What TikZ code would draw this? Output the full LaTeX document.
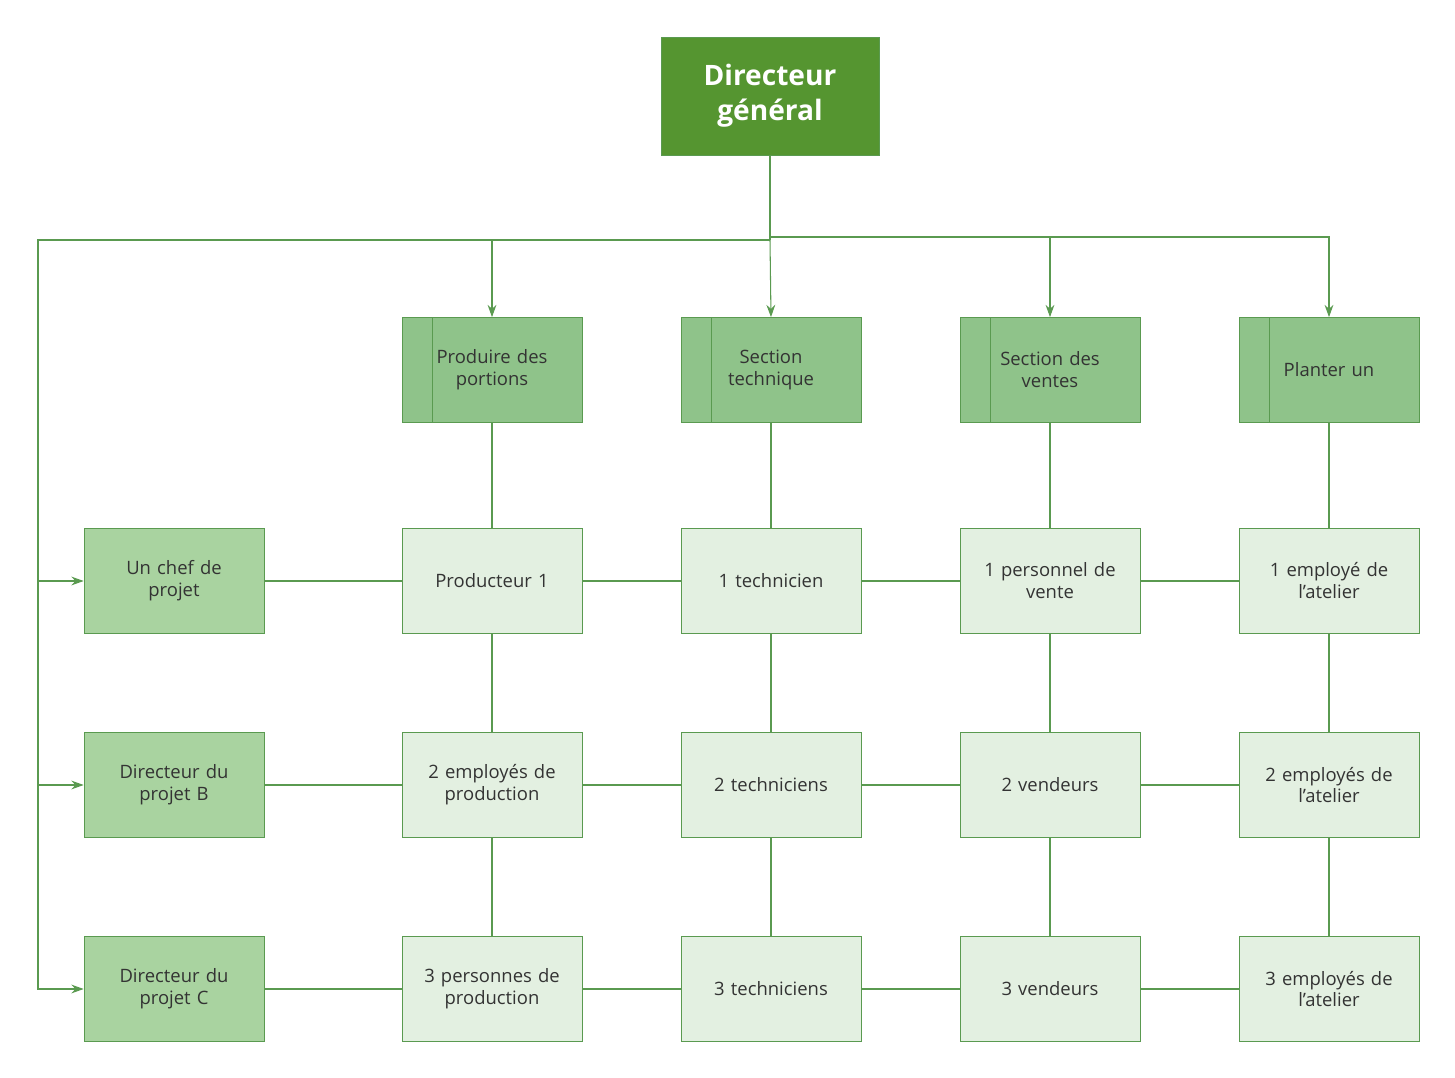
\documentclass[tikz,border=0pt]{standalone}
\usepackage{fontspec}
\setmainfont{Open Sans}
\usetikzlibrary{arrows.meta,positioning}
\definecolor{lineg}{HTML}{5A9A50}
\definecolor{topg}{HTML}{559530}
\definecolor{headg}{HTML}{8FC38A}
\definecolor{leftg}{HTML}{A9D3A0}
\definecolor{cellg}{HTML}{E3F0E1}
\definecolor{txt}{HTML}{333333}
\tikzset{
  box/.style={draw=lineg, text=txt, minimum width=3.6cm, minimum height=2.1cm,
    text width=3.2cm, align=center, inner sep=0pt,
    font=\fontsize{10.5}{12.5}\selectfont},
  cell/.style={box, fill=cellg},
  lead/.style={box, fill=leftg},
  head/.style={box, fill=headg, text width=2.9cm,
    path picture={\draw[lineg] ([xshift=0.6cm]path picture bounding box.north west) -- ([xshift=0.6cm]path picture bounding box.south west);}},
  link/.style={draw=lineg, line width=0.6pt},
  arr/.style={link, -{Stealth[length=7pt,width=5pt]}}
}
\begin{document}
\begin{tikzpicture}[x=0.02cm,y=-0.02cm]
    \useasboundingbox (0,0) rectangle (1455,1078);

    % top
    \node[fill=topg, draw=lineg, text=white, minimum width=4.36cm, minimum height=2.36cm,
      align=center, font=\fontsize{16}{20}\selectfont\bfseries] (dg) at (770,96) {Directeur\\général};

    % sections
    \node[head] (s1) at (492,370) {Produire des\\portions};
    \node[head] (s2) at (771,370) {Section\\technique};
    \node[head] (s3) at (1050,370) {Section des\\ventes};
    \node[head] (s4) at (1329,370) {Planter un};

    % rows
    \node[lead] (l1) at (174,581) {Un chef de\\projet};
    \node[cell] (a1) at (492,581) {Producteur 1};
    \node[cell] (b1) at (771,581) {1 technicien};
    \node[cell] (c1) at (1050,581) {1 personnel de\\vente};
    \node[cell] (d1) at (1329,581) {1 employé de\\l'atelier};

    \node[lead] (l2) at (174,785) {Directeur du\\projet B};
    \node[cell] (a2) at (492,785) {2 employés de\\production};
    \node[cell] (b2) at (771,785) {2 techniciens};
    \node[cell] (c2) at (1050,785) {2 vendeurs};
    \node[cell] (d2) at (1329,785) {2 employés de\\l'atelier};

    \node[lead] (l3) at (174,989) {Directeur du\\projet C};
    \node[cell] (a3) at (492,989) {3 personnes de\\production};
    \node[cell] (b3) at (771,989) {3 techniciens};
    \node[cell] (c3) at (1050,989) {3 vendeurs};
    \node[cell] (d3) at (1329,989) {3 employés de\\l'atelier};

    % branches from the top
    \coordinate (j) at (770,240);
    \draw[link] (dg.south) -- (j);
    \draw[arr] (j) -- (38,240) |- (l1.west);
    \draw[arr] (38,581) |- (l2.west);
    \draw[arr] (38,785) |- (l3.west);
    \draw[arr] (j) -| (s1.north);
    \draw[arr] (j) -- (s2.north);
    \draw[arr] (770,237) -| (s3.north);
    \draw[arr] (770,237) -| (s4.north);

    % columns
    \foreach \c in {a,b,c,d}{
      \draw[link] (\c1) -- (\c2);
      \draw[link] (\c2) -- (\c3);
    }
    \draw[link] (s1) -- (a1);
    \draw[link] (s2) -- (b1);
    \draw[link] (s3) -- (c1);
    \draw[link] (s4) -- (d1);

    % rows
    \foreach \r in {1,2,3}{
      \draw[link] (l\r) -- (a\r) -- (b\r) -- (c\r) -- (d\r);
    }
\end{tikzpicture}
\end{document}
